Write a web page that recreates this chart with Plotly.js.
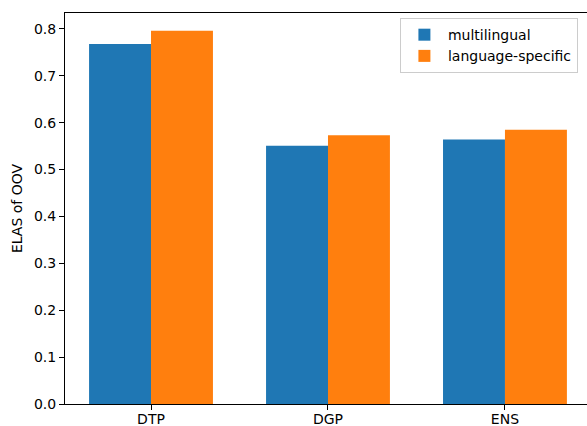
<!DOCTYPE html>
<html>
<head>
<meta charset="utf-8">
<script src="https://cdn.plot.ly/plotly-3.0.1.min.js"></script>
<style>html,body{margin:0;padding:0;background:#fff;overflow:hidden;}</style>
</head>
<body>
<div id="chart" style="width:600px;height:426px;"></div>
<script>
const categories = ["DTP", "DGP", "ENS"];
const multilingual = [0.768, 0.551, 0.564];
const languageSpecific = [0.796, 0.573, 0.585];
const seriesNames = ["multilingual", "language-specific"];
const yTicks = [0.0, 0.1, 0.2, 0.3, 0.4, 0.5, 0.6, 0.7, 0.8];

const font = {family: "DejaVu Sans", size: 14, color: "#000"};
const traces = [
  {type: "bar", name: seriesNames[0], x: categories, y: multilingual, marker: {color: "#1f77b4"}},
  {type: "bar", name: seriesNames[1], x: categories, y: languageSpecific, marker: {color: "#ff7f0e"}}
];
const layout = {
  width: 600, height: 426,
  margin: {l: 65, r: 0, t: 13, b: 22, pad: 0},
  paper_bgcolor: "#fff", plot_bgcolor: "#fff",
  font: font,
  barmode: "group", bargap: 0.3, bargroupgap: 0,
  showlegend: true,
  legend: {x: 0.626, y: 0.987, xanchor: "left", yanchor: "top",
    bgcolor: "rgba(255,255,255,0.8)", bordercolor: "#cccccc", borderwidth: 1,
    font: font, tracegroupgap: 2, itemwidth: 37},
  xaxis: {type: "category", range: [-0.486, 2.537], showline: true, linecolor: "#000", linewidth: 1,
    mirror: true, ticks: "outside", ticklen: 5, tickcolor: "#000", showgrid: false, zeroline: false,
    tickfont: font, ticklabelstandoff: -3},
  yaxis: {range: [0, 0.834], tickvals: yTicks, ticktext: yTicks.map(v => v.toFixed(1)),
    showline: true, linecolor: "#000", linewidth: 1, ticks: "outside", ticklen: 5, tickcolor: "#000",
    showgrid: false, zeroline: false, tickfont: font,
    title: {text: "ELAS of OOV", font: font, standoff: 8}}
};
Plotly.newPlot("chart", traces, layout, {displayModeBar: false, staticPlot: true});
</script>
</body>
</html>
